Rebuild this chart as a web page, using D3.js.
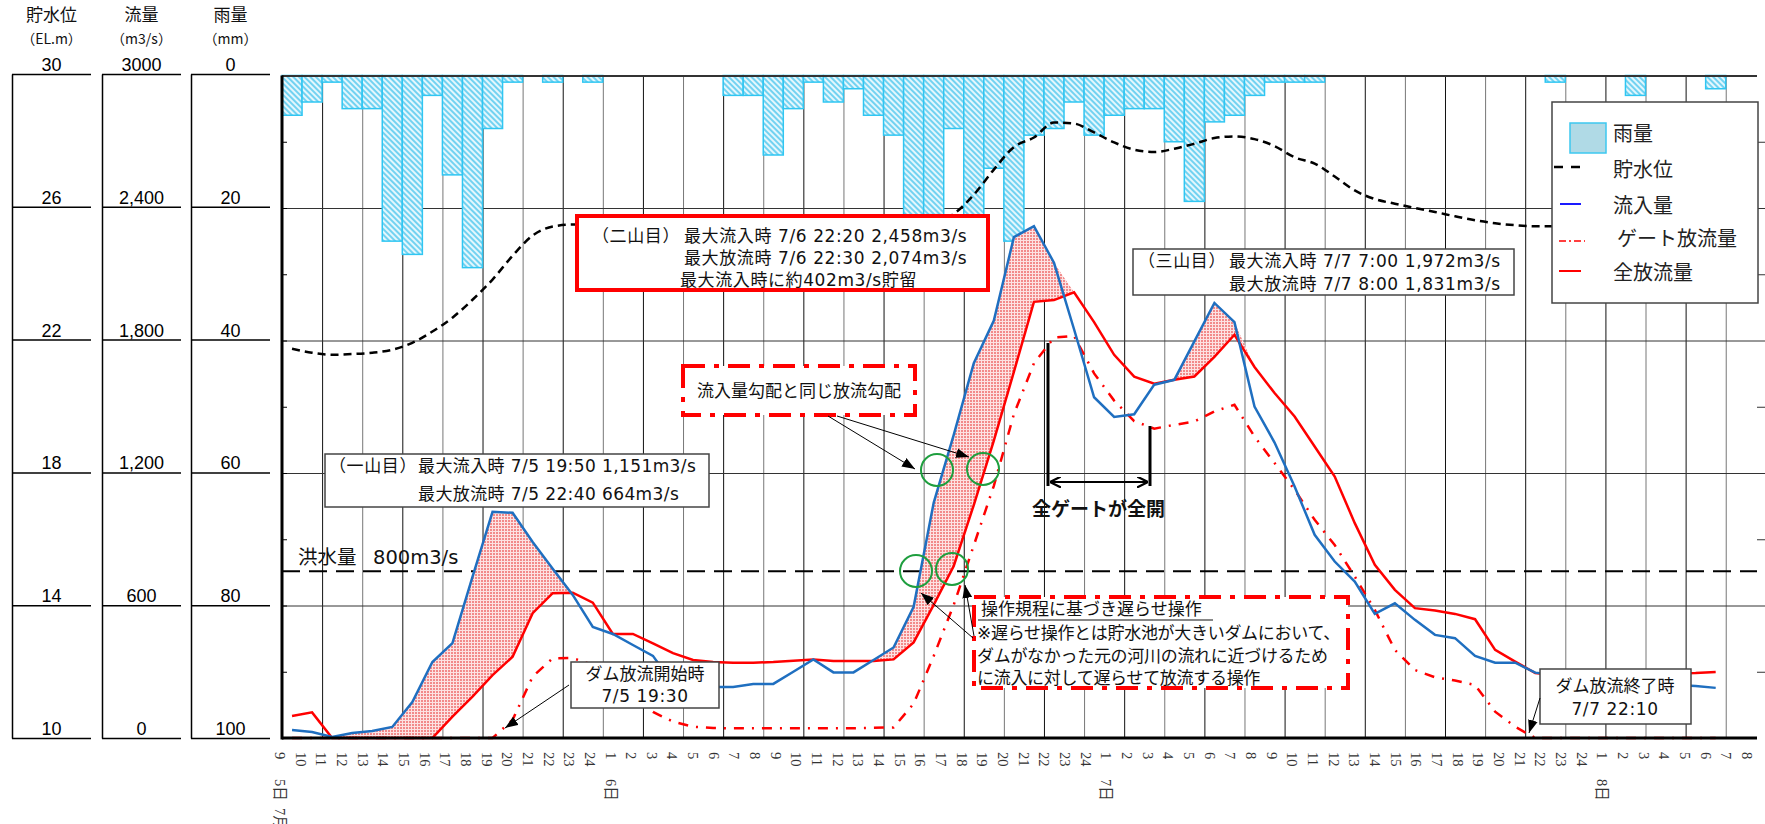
<!DOCTYPE html>
<html>
<head>
<meta charset="utf-8">
<script src="https://cdn.jsdelivr.net/npm/d3@7"></script>
<style>
  body { margin: 0; background: #fff; }
  svg { display: block; font-family: "Noto Sans CJK JP", "Noto Sans", sans-serif; }
</style>
</head>
<body>
<svg id="chart" width="1765" height="824"></svg>
<script>
// hourly data, index 0 = 7/5 9:00
var hourLabels = ['9','10','11','12','13','14','15','16','17','18','19','20','21','22','23','24',
  '1','2','3','4','5','6','7','8','9','10','11','12','13','14','15','16','17','18','19','20','21','22','23','24',
  '1','2','3','4','5','6','7','8','9','10','11','12','13','14','15','16','17','18','19','20','21','22','23','24',
  '1','2','3','4','5','6','7','8']
var dayLabels = [{ at: 0, text: '5日' }, { at: 16, text: '6日' }, { at: 40, text: '7日' }, { at: 64, text: '8日' }]
var monthLabel = '7月'

// 流入量 (m3/s)
var inflow = [36, 27, 5, 23, 32, 50, 163, 344, 430, 730,
  1024, 1020, 888, 766, 648, 503, 471, 421, 372, 245,
  231, 231, 231, 245, 245, 300, 356, 297, 297, 353,
  410, 594, 1065, 1373, 1697, 1890, 2268, 2318, 2152, 1851,
  1543, 1454, 1466, 1600, 1622, 1796, 1970, 1883, 1501, 1338,
  1139, 920, 799, 708, 562, 610, 535, 467, 452, 372,
  341, 341, 296, 285, 275, 265, 258, 250, 245, 240,
  236, 227]
// 全放流量 (m3/s)
var release = [100, 116, 0, 0, 0, 0, 0, 0, 97, 187,
  285, 368, 565, 656, 658, 613, 471, 471, 429, 384,
  353, 344, 341, 341, 344, 350, 356, 349, 349, 349,
  356, 433, 603, 779, 1055, 1347, 1658, 1975, 1983, 2018,
  1883, 1735, 1636, 1604, 1622, 1637, 1726, 1826, 1680, 1562,
  1456, 1320, 1184, 973, 784, 671, 588, 577, 562, 538,
  399, 346, 294, 285, 280, 280, 282, 285, 288, 292,
  294, 299]
// ゲート放流量 (m3/s)
var gate = [0, 0, 0, 0, 0, 0, 0, 0, 0, 0,
  0, 82, 278, 361, 362, 331, 263, 181, 118, 74,
  51, 45, 44, 44, 44, 44, 44, 44, 44, 46,
  48, 155, 371, 603, 872, 1142, 1466, 1697, 1813, 1821,
  1651, 1528, 1435, 1401, 1418, 1433, 1479, 1509, 1365, 1245,
  1124, 988, 874, 731, 580, 399, 308, 275, 260, 240,
  119, 51, 0, 0, 0, 0, 0, 0, 0, 0,
  0, 0]
// 貯水位 (EL.m)
var level = [21.75, 21.63, 21.57, 21.59, 21.63, 21.72, 21.93, 22.27, 22.69, 23.23,
  23.84, 24.56, 25.17, 25.44, 25.5, 25.5, 25.49, 25.47, 25.45, 25.43,
  25.41, 25.39, 25.37, 25.35, 25.34, 25.33, 25.32, 25.31, 25.3, 25.3,
  25.31, 25.38, 25.55, 25.82, 26.4, 27.16, 27.84, 28.13, 28.58, 28.55,
  28.28, 27.98, 27.76, 27.69, 27.79, 27.94, 28.11, 28.16, 28.08, 27.87,
  27.53, 27.34, 26.95, 26.53, 26.27, 26.13, 26.0, 25.88, 25.75, 25.63,
  25.54, 25.48, 25.45, 25.45, 25.44, 25.44, 25.43, 25.43, 25.42, 25.42,
  25.41, 25.41]
// 雨量 (mm)
var rain = [6, 4, 1, 5, 5, 25, 27, 3, 15, 29,
  8, 1, 0, 1, 0, 1, 0, 0, 0, 0,
  0, 0, 3, 3, 12, 5, 1, 4, 2, 6,
  9, 22, 21, 8, 24, 14, 25, 9, 8, 4,
  9, 6, 5, 5, 10, 19, 7, 6, 3, 1,
  1, 1, 0, 0, 0, 0, 0, 0, 0, 0,
  0, 0, 0, 1, 0, 0, 0, 3, 0, 0,
  0, 2]
var floodFlow = 755

var levelTicks = [10, 14, 18, 22, 26, 30]
var flowTicks = [0, 600, 1200, 1800, 2400, 3000]
var flowTickText = ['0', '600', '1,200', '1,800', '2,400', '3000']
var rainTicks = [0, 20, 40, 60, 80, 100]

var blue = '#1f6fc0', red = '#ff0000'
var pLeft = 282, pRight = 1757, pTop = 75.5, pBottom = 738
var boxFont = '"DejaVu Sans", "Noto Sans CJK JP", sans-serif'

var svg = d3.select('#chart')
svg.append('rect').attr('width', 1765).attr('height', 824).attr('fill', '#fff')

var x = d3.scaleLinear().domain([0, 73.56]).range([pLeft, pRight])
var yFlow = d3.scaleLinear().domain([0, 3000]).range([pBottom, pTop])
var yLevel = d3.scaleLinear().domain([10, 30]).range([pBottom, pTop])
var yRain = d3.scaleLinear().domain([0, 100]).range([pTop, pBottom])
var xLabel = d3.scalePoint().domain(d3.range(hourLabels.length)).range([280, 1747])

// patterns and markers
var defs = svg.append('defs')
var hatch = defs.append('pattern').attr('id', 'hatch').attr('patternUnits', 'userSpaceOnUse')
  .attr('width', 4).attr('height', 4).attr('patternTransform', 'rotate(-45)')
hatch.append('rect').attr('width', 4).attr('height', 4).attr('fill', '#e4f7fd')
hatch.append('line').attr('x1', 1).attr('y1', 0).attr('x2', 1).attr('y2', 4)
  .attr('stroke', '#55c9ee').attr('stroke-width', 1.6)

var dots = defs.append('pattern').attr('id', 'dots').attr('patternUnits', 'userSpaceOnUse')
  .attr('width', 3).attr('height', 3)
dots.append('rect').attr('width', 3).attr('height', 3).attr('fill', '#f28a8a')
dots.append('rect').attr('width', 3).attr('height', 1).attr('fill', '#fde2e2')
dots.append('rect').attr('width', 1).attr('height', 3).attr('fill', '#fde2e2')

defs.append('marker').attr('id', 'arrow').attr('viewBox', '0 0 12 9')
  .attr('refX', 12).attr('refY', 4.5).attr('markerWidth', 13).attr('markerHeight', 10)
  .attr('markerUnits', 'userSpaceOnUse').attr('orient', 'auto')
  .append('path').attr('d', 'M0,0L12,4.5L0,9Z').attr('fill', '#000')
defs.append('marker').attr('id', 'open').attr('viewBox', '0 0 10 10')
  .attr('refX', 10).attr('refY', 5).attr('markerWidth', 11).attr('markerHeight', 11)
  .attr('markerUnits', 'userSpaceOnUse').attr('orient', 'auto-start-reverse')
  .append('path').attr('d', 'M0,0L10,5L0,10').attr('fill', 'none').attr('stroke', '#000').attr('stroke-width', 2)

// left value panels
function panel(px, scale, ticks, fmt, title, unit) {
  var g = svg.append('g').attr('transform', 'translate(' + px + ',0)')
  g.call(d3.axisRight(scale).tickValues(ticks).tickSize(79).tickSizeOuter(0).tickFormat(fmt))
  g.select('.domain').attr('stroke', '#000').attr('stroke-width', 1.5)
  g.selectAll('.tick line').attr('stroke', '#000').attr('stroke-width', 1.5)
  g.selectAll('.tick text').attr('x', 39.5).attr('dy', '-0.2em')
    .attr('text-anchor', 'middle').attr('font-size', 18).attr('fill', '#000')
    .attr('font-family', '"Liberation Sans", Arial, sans-serif')
  g.append('text').attr('x', 39.5).attr('y', 21).attr('text-anchor', 'middle')
    .attr('fill', '#111').attr('font-family', '"Noto Sans CJK JP", sans-serif')
    .attr('font-size', 17).text(title)
  g.append('text').attr('x', 39.5).attr('y', 44).attr('text-anchor', 'middle')
    .attr('fill', '#111').attr('font-family', '"Noto Sans CJK JP", sans-serif')
    .attr('font-size', 14).text(unit)
}
panel(12, yLevel.copy().range([pBottom, 74]), levelTicks, d => d, '貯水位', '（EL.m）')
panel(102, yFlow.copy().range([pBottom, 74]), flowTicks, (d, i) => flowTickText[i], '流量', '（m3/s）')
panel(191, yRain.copy().range([74, pBottom]), rainTicks, d => d, '雨量', '（mm）')

// grid
var plot = svg.append('g')
var vgrid = plot.append('g').attr('transform', 'translate(0,' + pBottom + ')')
  .call(d3.axisBottom(x).tickValues(d3.range(2, 73, 2)).tickSize(-(pBottom - pTop)).tickFormat(''))
vgrid.select('.domain').remove()
vgrid.selectAll('.tick line').attr('stroke', (d, i) => i % 2 ? '#777' : '#111').attr('stroke-width', 1)

var hgrid = plot.append('g').attr('transform', 'translate(' + pLeft + ',0)')
  .call(d3.axisLeft(yFlow).tickValues([600, 1200, 1800, 2400]).tickSize(-(pRight - pLeft)).tickFormat(''))
hgrid.select('.domain').remove()
hgrid.selectAll('.tick line').attr('stroke', '#333').attr('stroke-width', 1)

var minor = plot.append('g').attr('transform', 'translate(' + pLeft + ',0)')
  .call(d3.axisRight(yFlow).tickValues(d3.range(300, 3000, 300)).tickSize(5).tickFormat(''))
minor.select('.domain').remove()
var minorR = plot.append('g').attr('transform', 'translate(' + pRight + ',0)')
  .call(d3.axisRight(yFlow).tickValues(d3.range(300, 3000, 300)).tickSize(8).tickFormat(''))
minorR.select('.domain').remove()
minorR.selectAll('.tick line').attr('stroke', '#333')

// flood line
plot.append('line').attr('x1', pLeft).attr('x2', pRight)
  .attr('y1', yFlow(floodFlow)).attr('y2', yFlow(floodFlow))
  .attr('stroke', '#000').attr('stroke-width', 2).attr('stroke-dasharray', '18,9')
var floodText = plot.append('g').attr('font-size', 19.5).attr('fill', '#111').attr('font-family', boxFont)
floodText.append('text').attr('x', 298).attr('y', yFlow(floodFlow) - 7).text('洪水量')
floodText.append('text').attr('x', 373).attr('y', yFlow(floodFlow) - 7).text('800m3/s')

// rain bars
plot.selectAll('rect.rain').data(rain.map((v, i) => ({ v: v, i: i })).filter(d => d.v > 0))
  .enter().append('rect').attr('class', 'rain')
  .attr('x', d => x(d.i)).attr('width', d => x(d.i + 1) - x(d.i))
  .attr('y', yRain(0)).attr('height', d => yRain(d.v) - yRain(0))
  .attr('fill', 'url(#hatch)').attr('stroke', '#2fc6f2').attr('stroke-width', 1.5)

// storage shading
var area = d3.area()
  .x((d, i) => x(i + 0.5))
  .y0((d, i) => yFlow(release[i]))
  .y1((d, i) => yFlow(Math.max(inflow[i], release[i])))
plot.append('path').attr('d', area(inflow)).attr('fill', 'url(#dots)')

var flowLine = d3.line().x((d, i) => x(i + 0.5)).y(d => yFlow(d))
plot.append('path').attr('d', flowLine(gate)).attr('fill', 'none')
  .attr('stroke', red).attr('stroke-width', 2.5).attr('stroke-dasharray', '10,8,2,8')
plot.append('path').attr('d', flowLine(release)).attr('fill', 'none')
  .attr('stroke', red).attr('stroke-width', 2.5)
plot.append('path').attr('d', flowLine(inflow)).attr('fill', 'none')
  .attr('stroke', blue).attr('stroke-width', 2.5)
var levelLine = d3.line().curve(d3.curveMonotoneX).x((d, i) => x(i + 0.5)).y(d => yLevel(d))
plot.append('path').attr('d', levelLine(level)).attr('fill', 'none')
  .attr('stroke', '#000').attr('stroke-width', 2.5).attr('stroke-dasharray', '8,5')

// frame
plot.append('line').attr('x1', pLeft).attr('x2', pRight).attr('y1', pTop + 0.5).attr('y2', pTop + 0.5)
  .attr('stroke', '#333').attr('stroke-width', 2)
plot.append('line').attr('x1', pLeft).attr('x2', pLeft).attr('y1', pTop).attr('y2', pBottom + 1.5)
  .attr('stroke', '#000').attr('stroke-width', 3)
plot.append('line').attr('x1', pLeft).attr('x2', pRight).attr('y1', pBottom).attr('y2', pBottom)
  .attr('stroke', '#000').attr('stroke-width', 3)

// x labels
var xl = svg.append('g').attr('font-family', '"Liberation Serif", "Noto Sans CJK JP", serif')
  .attr('font-size', 14.5).attr('fill', '#333')
xl.selectAll('text.hour').data(hourLabels).enter().append('text').attr('class', 'hour')
  .attr('transform', (d, i) => 'translate(' + xLabel(i) + ',752) rotate(90)')
  .attr('dy', '0.35em').text(d => d)
xl.selectAll('text.day').data(dayLabels).enter().append('text').attr('class', 'day')
  .attr('transform', d => 'translate(' + xLabel(d.at) + ',779) rotate(90)')
  .attr('dy', '0.35em').text(d => d.text)
xl.append('text').attr('transform', 'translate(' + xLabel(0) + ',808) rotate(90)')
  .attr('dy', '0.35em').text(monthLabel)

// annotations
var ann = svg.append('g').attr('font-size', 17).attr('fill', '#111').attr('font-family', boxFont)
  .attr('letter-spacing', 0.6)
function box(x0, y0, w, h, opt) {
  opt = opt || {}
  ann.append('rect').attr('x', x0).attr('y', y0).attr('width', w).attr('height', h)
    .attr('fill', '#fff').attr('stroke', opt.stroke || '#444')
    .attr('stroke-width', opt.sw || 1.5).attr('stroke-dasharray', opt.dash || null)
}
function txt(x0, y0, s, anchor) {
  return ann.append('text').attr('x', x0).attr('y', y0).attr('dominant-baseline', 'central')
    .attr('text-anchor', anchor || 'start').text(s)
}
function arrow(x1, y1, x2, y2) {
  ann.append('line').attr('x1', x1).attr('y1', y1).attr('x2', x2).attr('y2', y2)
    .attr('stroke', '#000').attr('stroke-width', 1).attr('marker-end', 'url(#arrow)')
}

box(325, 454, 384, 53)
txt(329, 466, '（一山目）')
txt(418, 466, '最大流入時 7/5 19:50 1,151m3/s').attr('letter-spacing', 0.4)
txt(418, 494, '最大放流時 7/5 22:40 664m3/s').attr('letter-spacing', 0.4)

box(577, 216, 411, 74, { stroke: red, sw: 4 })
txt(592, 236, '（二山目）')
txt(684, 236, '最大流入時 7/6 22:20 2,458m3/s')
txt(684, 258, '最大放流時 7/6 22:30 2,074m3/s')
txt(680, 280, '最大流入時に約402m3/s貯留')

box(1133, 249, 381, 46)
txt(1138, 261, '（三山目）')
txt(1229, 261, '最大流入時 7/7 7:00 1,972m3/s')
txt(1229, 284, '最大放流時 7/7 8:00 1,831m3/s')

box(683, 366, 232, 49, { stroke: red, sw: 4, dash: '22,9,5,9' })
txt(799, 391, '流入量勾配と同じ放流勾配', 'middle').attr('letter-spacing', 0)
arrow(828, 416, 915, 469)
arrow(837, 416, 969, 457)

ann.selectAll('circle.mark').data([[937, 470], [983, 469], [916, 571], [952, 569]])
  .enter().append('circle').attr('class', 'mark').attr('cx', d => d[0]).attr('cy', d => d[1]).attr('r', 16)
  .attr('fill', 'none').attr('stroke', '#1e9e3e').attr('stroke-width', 2)

box(974, 597, 374, 91, { stroke: red, sw: 4, dash: '22,9,5,9' })
txt(981, 609, '操作規程に基づき遅らせ操作').attr('letter-spacing', 0)
ann.append('line').attr('x1', 978).attr('x2', 1213).attr('y1', 620).attr('y2', 620)
  .attr('stroke', '#111').attr('stroke-width', 1)
txt(977, 633, '※遅らせ操作とは貯水池が大きいダムにおいて、').attr('letter-spacing', -0.3)
txt(977, 656, 'ダムがなかった元の河川の流れに近づけるため').attr('letter-spacing', -0.3)
txt(977, 678, 'に流入に対して遅らせて放流する操作').attr('letter-spacing', -0.3)
arrow(973, 638, 921, 593)
arrow(974, 636, 965, 585)

box(571, 662, 148, 46)
txt(645, 674, 'ダム放流開始時', 'middle').attr('letter-spacing', 0)
txt(645, 696, '7/5 19:30', 'middle')
arrow(569, 685, 505, 728)

box(1540, 669, 151, 55)
txt(1615, 686, 'ダム放流終了時', 'middle').attr('letter-spacing', 0)
txt(1615, 709, '7/7 22:10', 'middle')
arrow(1540, 698, 1529, 733)

// 全ゲートが全開
ann.append('line').attr('x1', 1048).attr('x2', 1048).attr('y1', 343).attr('y2', 486)
  .attr('stroke', '#000').attr('stroke-width', 3)
ann.append('line').attr('x1', 1150).attr('x2', 1150).attr('y1', 426).attr('y2', 486)
  .attr('stroke', '#000').attr('stroke-width', 3)
ann.append('line').attr('x1', 1050).attr('x2', 1148).attr('y1', 482).attr('y2', 482)
  .attr('stroke', '#000').attr('stroke-width', 2)
  .attr('marker-start', 'url(#open)').attr('marker-end', 'url(#open)')
txt(1032, 509, '全ゲートが全開').attr('font-size', 19).attr('font-weight', 'bold').attr('letter-spacing', 0)

// legend
var lg = svg.append('g').attr('font-size', 20).attr('fill', '#222')
lg.append('rect').attr('x', 1552).attr('y', 102).attr('width', 206).attr('height', 201)
  .attr('fill', '#fff').attr('stroke', '#444').attr('stroke-width', 1.5)
lg.append('rect').attr('x', 1570).attr('y', 123).attr('width', 36).attr('height', 30)
  .attr('fill', '#b0dae6').attr('stroke', '#3cc8f0').attr('stroke-width', 1.5)
lg.append('line').attr('x1', 1554).attr('x2', 1580).attr('y1', 167).attr('y2', 167)
  .attr('stroke', '#000').attr('stroke-width', 2.5).attr('stroke-dasharray', '9,8')
lg.append('line').attr('x1', 1560).attr('x2', 1581).attr('y1', 204).attr('y2', 204)
  .attr('stroke', '#1a1aff').attr('stroke-width', 2)
lg.append('line').attr('x1', 1559).attr('x2', 1585).attr('y1', 241).attr('y2', 241)
  .attr('stroke', red).attr('stroke-width', 1.5).attr('stroke-dasharray', '7,3,2,3')
lg.append('line').attr('x1', 1559).attr('x2', 1581).attr('y1', 271).attr('y2', 271)
  .attr('stroke', red).attr('stroke-width', 2)
var legendItems = [['雨量', 132, 1613], ['貯水位', 168, 1613], ['流入量', 204, 1613], ['ゲート放流量', 237, 1617], ['全放流量', 271, 1613]]
lg.selectAll('text').data(legendItems).enter().append('text')
  .attr('x', d => d[2]).attr('y', d => d[1]).attr('dominant-baseline', 'central').text(d => d[0])
</script>
</body>
</html>
